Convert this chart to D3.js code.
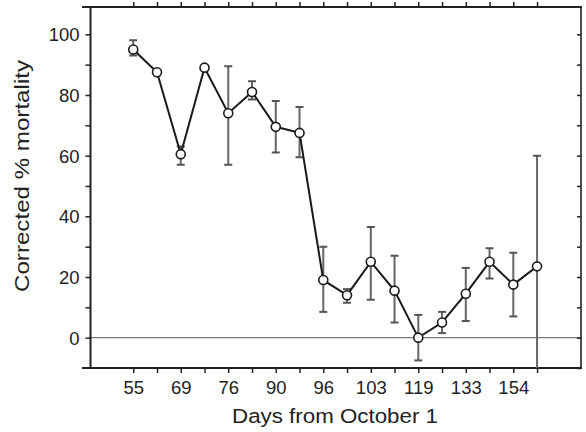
<!DOCTYPE html>
<html>
<head>
<meta charset="utf-8">
<script src="https://cdn.jsdelivr.net/npm/d3@7"></script>
<style>
  html, body { margin: 0; padding: 0; background: #fff; }
  svg { display: block; }
  text { font-family: "Liberation Sans", Arial, Helvetica, sans-serif; fill: #222; }
</style>
</head>
<body>
<svg id="chart" width="586" height="432"></svg>
<script>
// ---- data ----
const dayLabels = ["55", "", "69", "", "76", "", "90", "", "96", "", "103", "", "119", "", "133", "", "154", ""];
const mortality = [95, 87.5, 60.5, 89, 74, 81, 69.5, 67.5, 19, 14, 25, 15.5, 0, 5, 14.5, 25, 17.5, 23.5];
const errLow    = [93, null, 57, null, 57, 78.5, 61, 59.5, 8.5, 11.5, 12.5, 5, -7.5, 1.5, 5.5, 19.5, 7, -15];
const errHigh   = [98, null, 63, null, 89.5, 84.5, 78, 76, 30, 16, 36.5, 27, 7.5, 8.5, 23, 29.5, 28, 60];
const yTickValues = [0, 20, 40, 60, 80, 100];
const yTitle = "Corrected % mortality";
const xTitle = "Days from October 1";

const svg = d3.select("#chart");
const L = 90.5, R = 581, T = 7, B = 368;

const x = d3.scaleLinear().domain([-1.8, 18.85]).range([L, R]);
const y = d3.scaleLinear().domain([-10, 109]).range([B, T]);

const idx = d3.range(mortality.length);

// clip
svg.append("defs").append("clipPath").attr("id", "plotclip")
  .append("rect").attr("x", L).attr("y", T).attr("width", R - L).attr("height", B - T);

// zero line
svg.append("line")
  .attr("x1", L).attr("x2", R).attr("y1", y(0)).attr("y2", y(0))
  .attr("stroke", "#777").attr("stroke-width", 1.2);

// axes
const bottomAxis = d3.axisBottom(x).tickValues(idx).tickSize(5).tickFormat((d) => dayLabels[d]).tickPadding(8);
const gB = svg.append("g").attr("transform", `translate(0,${B})`).call(bottomAxis);
const topAxis = d3.axisTop(x).tickValues(idx).tickSize(5).tickFormat("");
const gT = svg.append("g").attr("transform", `translate(0,${T})`).call(topAxis);
const leftAxis = d3.axisLeft(y).tickValues(d3.range(0, 101, 10)).tickSize(5)
  .tickFormat((d) => yTickValues.includes(d) ? d : "").tickPadding(6);
const gL = svg.append("g").attr("transform", `translate(${L},0)`).call(leftAxis);
const rightAxis = d3.axisLeft(y).tickValues(d3.range(-10, 101, 10)).tickSize(4).tickFormat("");
const gR = svg.append("g").attr("transform", `translate(${R},0)`).call(rightAxis);

[gB, gT, gL, gR].forEach((g) => {
  g.select(".domain").remove();
  g.selectAll(".tick line").attr("stroke", "#222").attr("stroke-width", 1.5);
  g.selectAll("text").attr("font-size", 18.5).attr("fill", "#222")
    .attr("font-family", "Liberation Sans, Arial, sans-serif");
});
gL.selectAll(".tick text").attr("dy", "0.36em");

// frame lines
svg.append("line").attr("x1", 82).attr("x2", R + 1).attr("y1", B).attr("y2", B)
  .attr("stroke", "#222").attr("stroke-width", 2);
svg.append("line").attr("x1", 82).attr("x2", R + 1).attr("y1", T).attr("y2", T)
  .attr("stroke", "#222").attr("stroke-width", 2);
svg.append("line").attr("x1", L).attr("x2", L).attr("y1", T).attr("y2", B)
  .attr("stroke", "#222").attr("stroke-width", 2);
svg.append("line").attr("x1", R).attr("x2", R).attr("y1", T).attr("y2", B)
  .attr("stroke", "#222").attr("stroke-width", 1.6);

// error bars
const plot = svg.append("g").attr("clip-path", "url(#plotclip)");
const eb = idx.filter((i) => errLow[i] !== null);
plot.selectAll("line.eb").data(eb).join("line").attr("class", "eb")
  .attr("x1", (i) => x(i)).attr("x2", (i) => x(i))
  .attr("y1", (i) => y(errLow[i])).attr("y2", (i) => y(errHigh[i]))
  .attr("stroke", "#666").attr("stroke-width", 2);
const caps = [];
eb.forEach((i) => { caps.push({ i, v: errLow[i] }); caps.push({ i, v: errHigh[i] }); });
plot.selectAll("line.cap").data(caps).join("line").attr("class", "cap")
  .attr("x1", (d) => x(d.i) - 4).attr("x2", (d) => x(d.i) + 4)
  .attr("y1", (d) => y(d.v)).attr("y2", (d) => y(d.v))
  .attr("stroke", "#555").attr("stroke-width", 2);

// line
svg.append("path").datum(idx)
  .attr("fill", "none").attr("stroke", "#1a1a1a").attr("stroke-width", 2)
  .attr("d", d3.line().x((i) => x(i)).y((i) => y(mortality[i])));

// points
svg.selectAll("circle.pt").data(idx).join("circle").attr("class", "pt")
  .attr("cx", (i) => x(i)).attr("cy", (i) => y(mortality[i])).attr("r", 4.5)
  .attr("fill", "#fff").attr("stroke", "#1a1a1a").attr("stroke-width", 1.6);

// titles
svg.append("text").attr("x", 335).attr("y", 423).attr("text-anchor", "middle")
  .attr("font-size", 20).attr("textLength", 206).attr("lengthAdjust", "spacingAndGlyphs")
  .text(xTitle);
svg.append("text").attr("transform", "translate(29,176) rotate(-90)").attr("text-anchor", "middle")
  .attr("font-size", 20).attr("textLength", 232).attr("lengthAdjust", "spacingAndGlyphs")
  .text(yTitle);
</script>
</body>
</html>
